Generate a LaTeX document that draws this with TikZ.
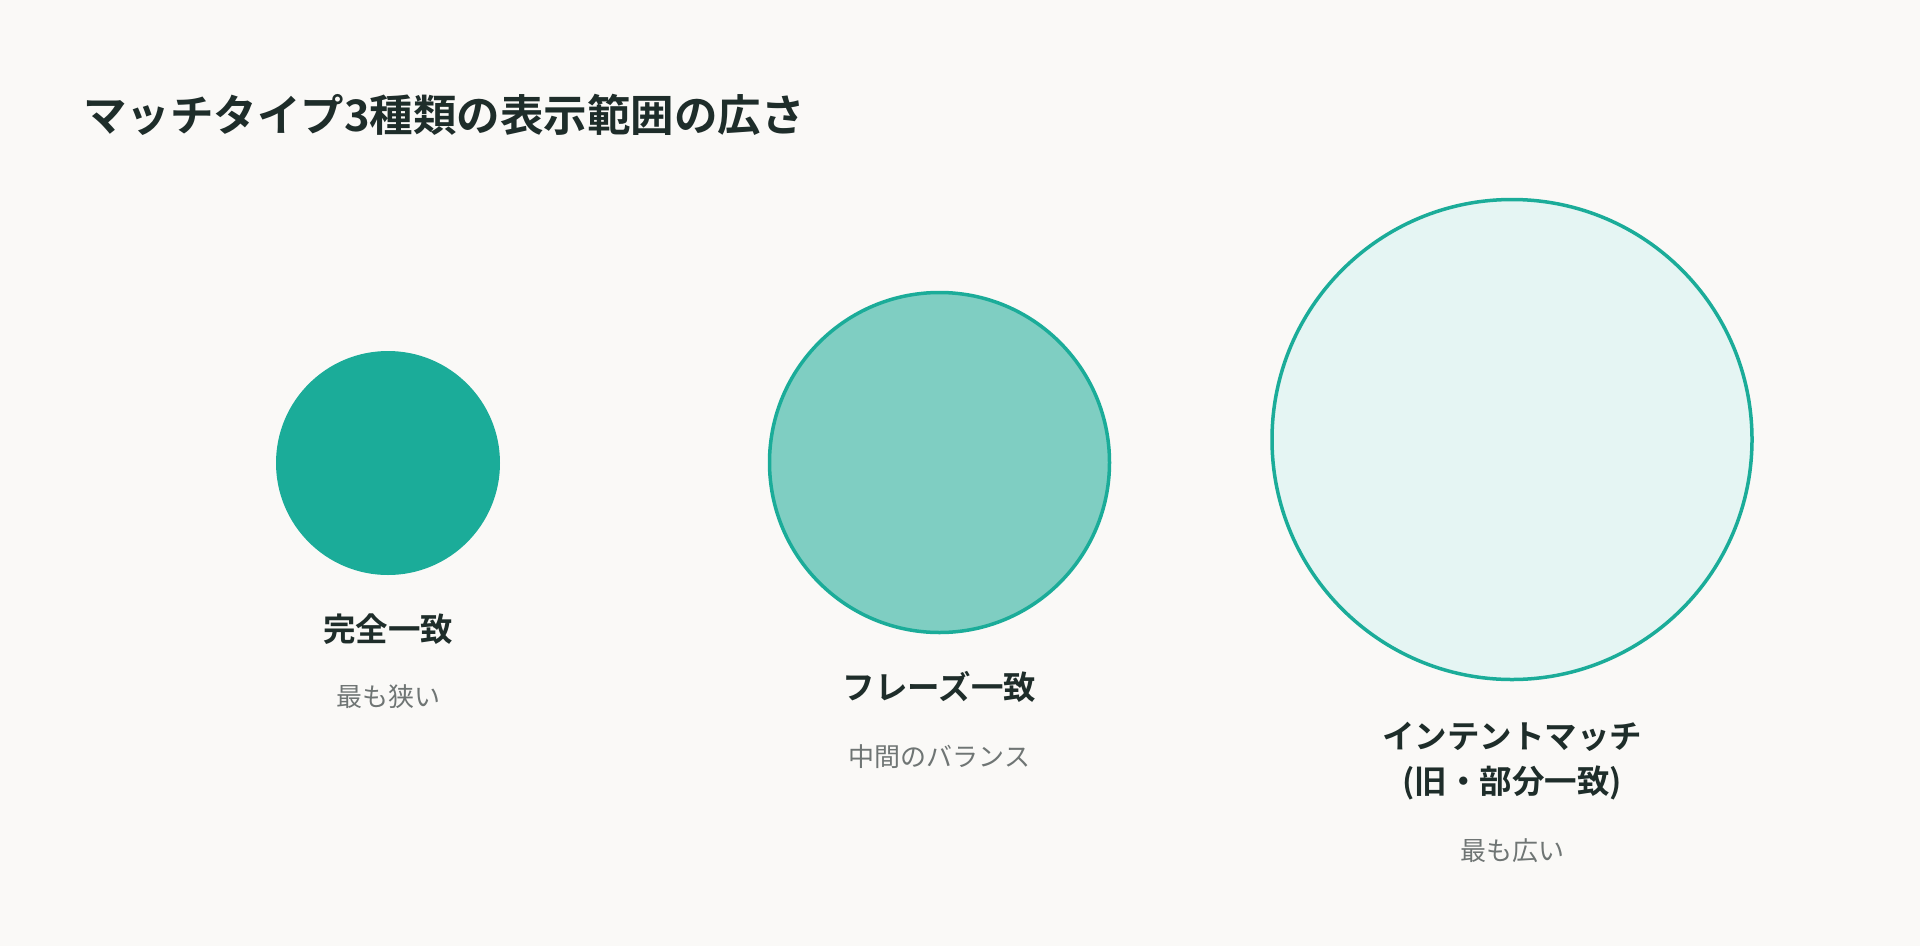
\documentclass[tikz,border=0pt]{standalone}
\usepackage{fontspec}
\newfontfamily\jp{Noto Sans CJK JP}
\newfontfamily\jpb{Noto Sans CJK JP Bold}
\definecolor{bgc}{HTML}{FAF9F7}
\definecolor{teal1}{HTML}{1BAC99}
\definecolor{teal2}{HTML}{7FCEC2}
\definecolor{teal3}{HTML}{E5F5F3}
\definecolor{ink}{HTML}{1E2D2A}
\definecolor{greyt}{HTML}{6F7574}
\tikzset{
  ttl/.style={anchor=base west, inner sep=0pt, text=ink, font=\jpb\fontsize{43.5}{52}\selectfont},
  lbl/.style={anchor=base, inner sep=0pt, text=ink, font=\jpb\fontsize{32.5}{39}\selectfont},
  sub/.style={anchor=base, inner sep=0pt, text=greyt, font=\jp\fontsize{26}{31}\selectfont},
  ring/.style={circle, inner sep=0pt, draw=teal1, line width=3.5pt},
}
\begin{document}
\begin{tikzpicture}[x=1pt,y=-1pt]
\fill[bgc] (0,0) rectangle (1920,946);
\useasboundingbox (0,0) rectangle (1920,946);
\node[ttl] (title) at (83,131) {マッチタイプ3種類の表示範囲の広さ};
% circles
\node[circle, inner sep=0pt, fill=teal1, minimum size=224pt] (c1) at (388,463) {};
\node[ring, fill=teal2, minimum size=340pt] (c2) at (939.5,462.5) {};
\node[ring, fill=teal3, minimum size=480pt] (c3) at (1512,439.5) {};
% labels
\node[lbl] (l1) at (388,641) {完全一致};
\node[sub] (s1) at (388,706) {最も狭い};
\node[lbl] (l2) at (939.5,699) {フレーズ一致};
\node[sub] (s2) at (939.5,766) {中間のバランス};
\node[lbl] (l3a) at (1512,748) {インテントマッチ};
\node[lbl] (l3b) at (1512,793) {(旧・部分一致)};
\node[sub] (s3) at (1512,860) {最も広い};
\end{tikzpicture}
\end{document}
